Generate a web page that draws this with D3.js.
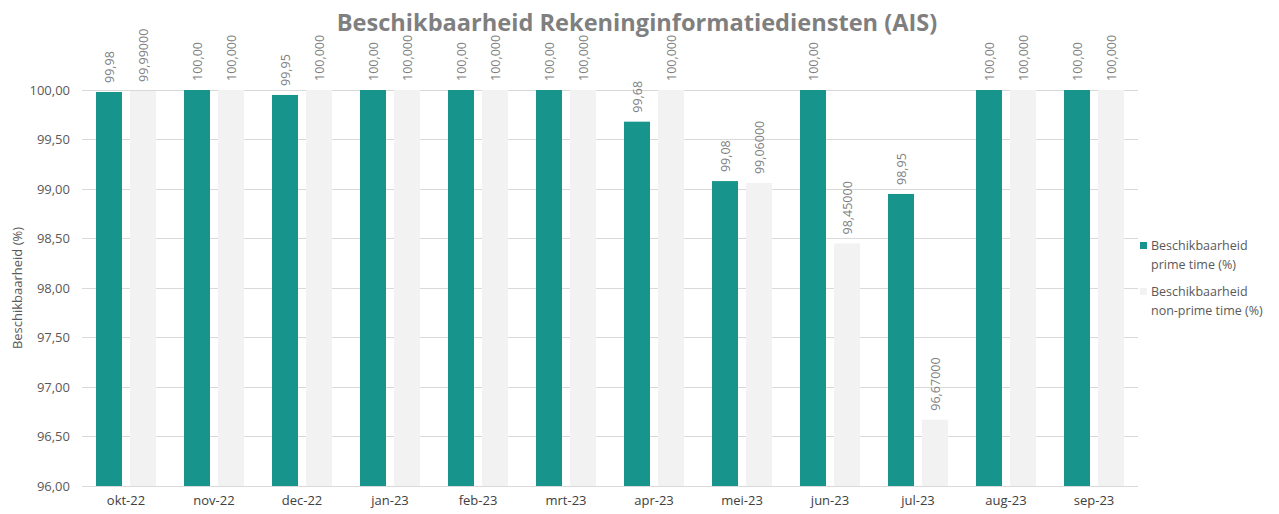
<!DOCTYPE html>
<html><head><meta charset="utf-8">
<script src="https://cdn.jsdelivr.net/npm/d3@7"></script>
<style>body{margin:0;background:#fff}svg{display:block}</style>
</head><body>
<svg id="c" width="1279" height="514"></svg>
<script>
const categories = ["okt-22","nov-22","dec-22","jan-23","feb-23","mrt-23","apr-23","mei-23","jun-23","jul-23","aug-23","sep-23"];
const primeValues = [99.98,100,99.95,100,100,100,99.68,99.08,100,98.95,100,100];
const nonPrimeValues = [99.99,100,100,100,100,100,100,99.06,98.45,96.67,100,100];
const nonPrimeLabels = ["99,99000","100,000","100,000","100,000","100,000","100,000","100,000","99,06000","98,45000","96,67000","100,000","100,000"];
const yTicks = [96,96.5,97,97.5,98,98.5,99,99.5,100];
const seriesNames = [["Beschikbaarheid","prime time (%)"],["Beschikbaarheid","non-prime time (%)"]];
const colors = ["#17958d","#f2f2f2"];

const svg = d3.select("#c");
const font = "'Open Sans', 'Noto Sans', sans-serif";
const x = d3.scaleBand().domain(categories).range([82,1138]).paddingInner(28/88).paddingOuter(14/88);
const sub = d3.scaleBand().domain([0,1]).range([0,x.bandwidth()]).paddingInner(8/34);
const y = d3.scaleLinear().domain([96,100]).range([486,90]);

// gridlines
svg.append("g").selectAll("line").data(yTicks).join("line")
  .attr("x1",82).attr("x2",1138).attr("y1",d=>y(d)).attr("y2",d=>y(d))
  .attr("stroke","#d9d9d9").attr("stroke-width",1).attr("shape-rendering","crispEdges");

// y axis labels
const yAxis = svg.append("g").attr("transform","translate(70,0)")
  .call(d3.axisLeft(y).tickValues(yTicks).tickSize(0).tickPadding(0).tickFormat(d=>d3.format(".2f")(d).replace(".",",")));
yAxis.select(".domain").remove();
yAxis.selectAll("text").attr("font-family",font).attr("font-size",13).attr("fill","#595959");

// x axis
const xAxis = svg.append("g").attr("transform","translate(0,486)")
  .call(d3.axisBottom(x).tickSize(0).tickPadding(10));
xAxis.select(".domain").remove();
xAxis.selectAll("text").attr("font-family",font).attr("font-size",13).attr("fill","#404040");

const series = [primeValues, nonPrimeValues];
const labels = [primeValues.map(v=>d3.format(".2f")(v).replace(".",",")), nonPrimeLabels];
series.forEach((vals,si)=>{
  svg.append("g").selectAll("rect").data(vals).join("rect")
    .attr("x",(d,i)=>x(categories[i])+sub(si))
    .attr("width",sub.bandwidth())
    .attr("y",d=>y(d)).attr("height",d=>y(96)-y(d))
    .attr("fill",colors[si]);
  svg.append("g").selectAll("text").data(vals).join("text")
    .attr("transform",(d,i)=>`translate(${x(categories[i])+sub(si)+sub.bandwidth()/2+4.5},${y(d)-9}) rotate(-90)`)
    .attr("font-family",font).attr("font-size",12.5).attr("fill","#7f7f7f")
    .text((d,i)=>labels[si][i]);
});

// title
svg.append("text").attr("x",637).attr("y",31).attr("text-anchor","middle")
  .attr("font-family",font).attr("font-size",23.6).attr("font-weight","bold").attr("fill","#7f7f7f")
  .text("Beschikbaarheid Rekeninginformatiediensten (AIS)");

// y title
svg.append("text").attr("transform","translate(22,288) rotate(-90)").attr("text-anchor","middle")
  .attr("font-family",font).attr("font-size",13).attr("fill","#595959")
  .text("Beschikbaarheid (%)");

// legend
const leg = svg.append("g");
seriesNames.forEach((nm,i)=>{
  const ly = 246 + i*46;
  leg.append("rect").attr("x",1140).attr("y",ly-4).attr("width",7).attr("height",7).attr("fill",colors[i]);
  const t = leg.append("text").attr("font-family",font).attr("font-size",12.5).attr("fill","#595959");
  nm.forEach((line,k)=>t.append("tspan").attr("x",1151).attr("y",ly+4+k*19).text(line));
});
</script>
</body></html>
